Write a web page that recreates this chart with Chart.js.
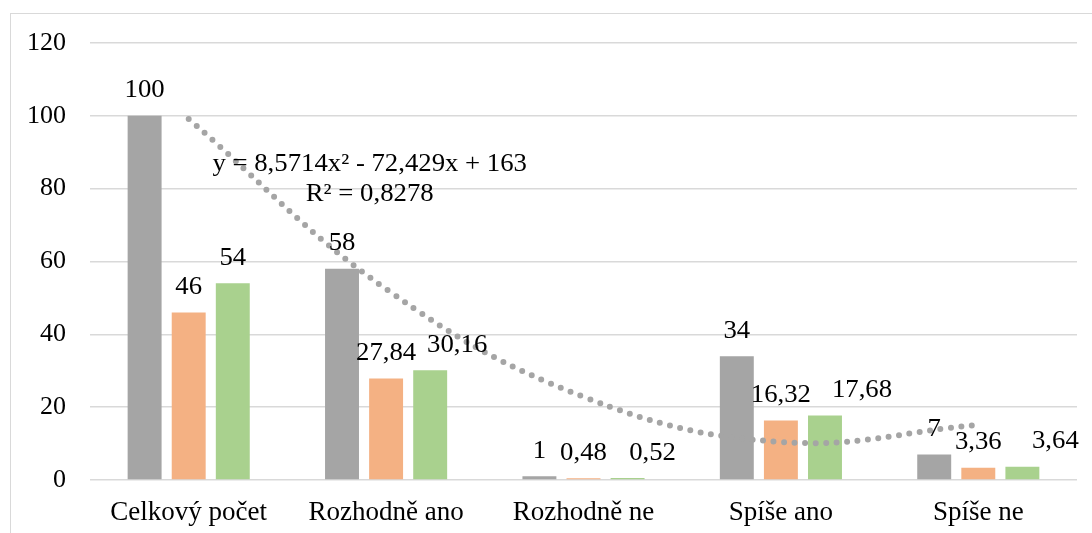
<!DOCTYPE html>
<html>
<head>
<meta charset="utf-8">
<script src="https://cdn.jsdelivr.net/npm/chart.js@4/dist/chart.umd.min.js"></script>
<style>
    html, body { margin: 0; padding: 0; background: #fff; overflow: hidden; }
    #frame {
        position: absolute; left: 10px; top: 13px; width: 1100px; height: 540px;
        border: 1.5px solid #d9d9d9; box-sizing: border-box;
    }
    #wrap { position: absolute; left: 0; top: 0; width: 1092px; height: 533px; }
</style>
</head>
<body>
<div id="frame"></div>
<div id="wrap"><canvas id="chart" width="1092" height="533"></canvas></div>
<script>
const categories = ['Celkový počet', 'Rozhodně ano', 'Rozhodně ne', 'Spíše ano', 'Spíše ne'];
const totalValues = [100, 58, 1, 34, 7];
const firstShare = [46, 27.84, 0.48, 16.32, 3.36];
const secondShare = [54, 30.16, 0.52, 17.68, 3.64];
// trendline values at each category
const trendValues = [99.14, 52.43, 22.86, 10.43, 15.14];
const equationLines = ['y = 8,5714x² - 72,429x + 163', 'R² = 0,8278'];

const serif = '"Liberation Serif", "Times New Roman", serif';

// in the original some labels of the third series were dragged to the right
const labelNudge = [[0, 0, 0, 0, 0], [0, 0, 0, 0, 0], [0, 27, 25, 37, 33]];

function wideText(ctx, text, x, y) {
    ctx.save();
    ctx.translate(x, y);
    ctx.scale(1.07, 1);
    ctx.fillText(text, 0, 0);
    ctx.restore();
}

const barLabels = {
    id: 'barLabels',
    afterDatasetsDraw(chart) {
        const ctx = chart.ctx;
        ctx.save();
        ctx.font = '25px ' + serif;
        ctx.fillStyle = '#000';
        ctx.textAlign = 'center';
        ctx.textBaseline = 'middle';
        let k = 0;
        chart.data.datasets.forEach((ds, i) => {
            if (ds.type === 'line') return;
            const meta = chart.getDatasetMeta(i);
            const nudge = labelNudge[k++];
            meta.data.forEach((bar, j) => {
                const text = String(ds.data[j]).replace('.', ',');
                wideText(ctx, text, bar.x + nudge[j], bar.y - 25);
            });
        });
        // trendline equation
        const x = chart.scales.x.getPixelForValue(0) + 181;
        wideText(ctx, equationLines[0], x, 164);
        wideText(ctx, equationLines[1], x, 194);
        ctx.restore();
    }
};

new Chart(document.getElementById('chart').getContext('2d'), {
    type: 'bar',
    data: {
        labels: categories,
        datasets: [
            {
                type: 'line',
                label: 'Trend',
                data: trendValues,
                borderColor: '#a5a5a5',
                borderWidth: 6,
                borderDash: [0, 10.5],
                borderCapStyle: 'round',
                pointRadius: 0,
                tension: 0.4,
                fill: false,
                order: 0
            },
            { label: 'Celkem', data: totalValues, backgroundColor: '#a5a5a5', order: 1 },
            { label: 'A', data: firstShare, backgroundColor: '#f4b183', order: 1 },
            { label: 'B', data: secondShare, backgroundColor: '#a9d18e', order: 1 }
        ]
    },
    options: {
        responsive: false,
        animation: false,
        categoryPercentage: 0.67,
        barPercentage: 0.77,
        layout: { padding: { top: 43, right: 15, left: 0, bottom: 0 } },
        plugins: {
            legend: { display: false },
            tooltip: { enabled: false }
        },
        scales: {
            x: {
                grid: { display: false, drawTicks: false },
                border: { display: false },
                ticks: { color: '#000', font: { family: serif, size: 27 }, padding: 17, maxRotation: 0 },
                afterFit(scale) { scale.height = 53; }
            },
            y: {
                min: 0,
                max: 120,
                ticks: { stepSize: 20, color: '#000', font: { family: serif, size: 26 }, padding: 24 },
                grid: { color: '#d9d9d9', lineWidth: 1.5, drawTicks: false },
                border: { display: false },
                afterFit(scale) { scale.width = 90; }
            }
        }
    },
    plugins: [barLabels]
});
</script>
</body>
</html>
